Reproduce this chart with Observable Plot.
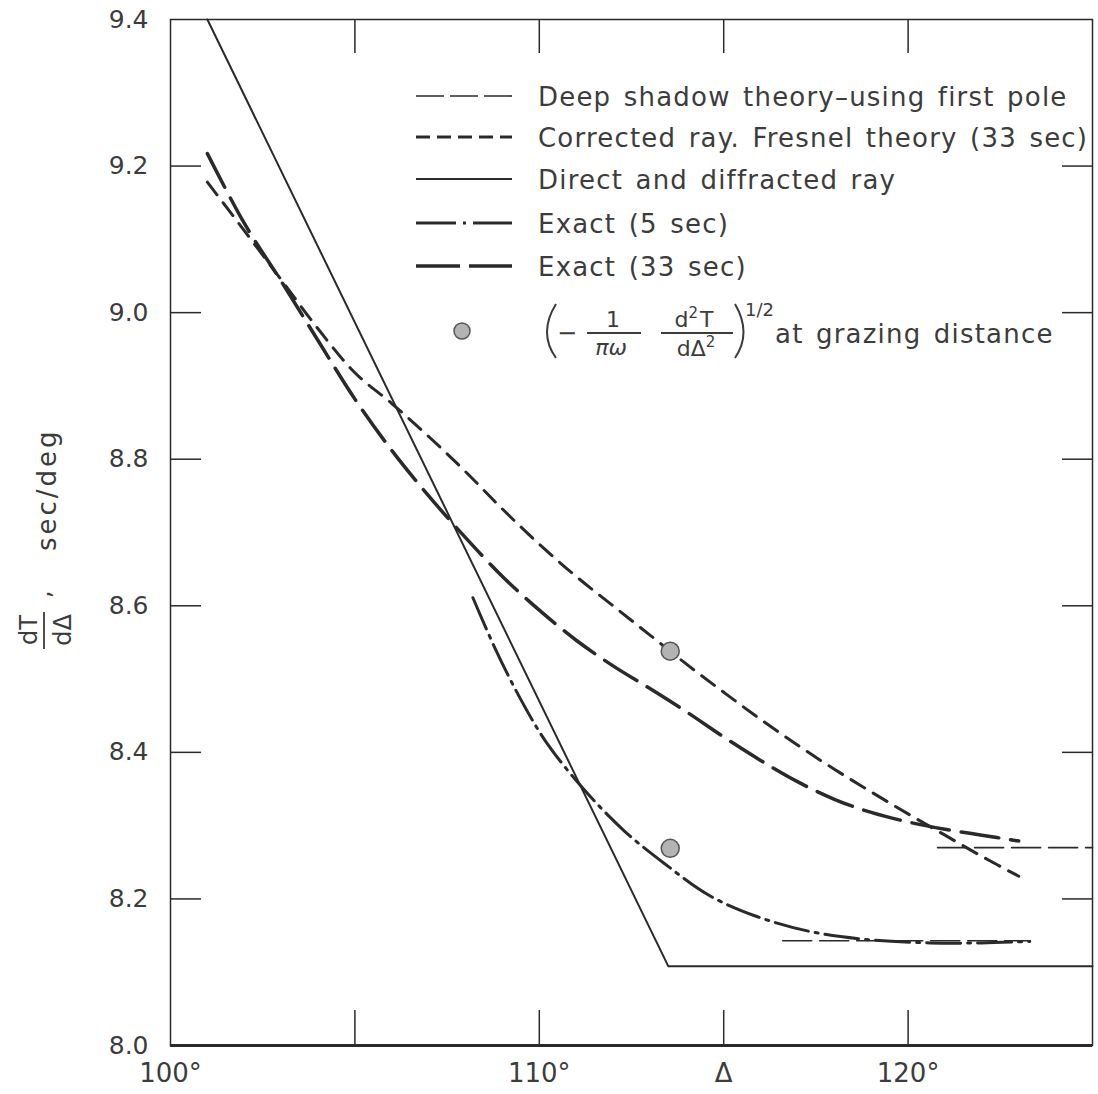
<!DOCTYPE html>
<html>
<head>
<meta charset="utf-8">
<script src="https://cdn.jsdelivr.net/npm/d3@7"></script>
<script src="https://cdn.jsdelivr.net/npm/@observablehq/plot@0.6"></script>
<style>
  html, body { margin: 0; padding: 0; background: #fff; }
  #chart svg { display: block; }
</style>
</head>
<body>
<div id="chart"></div>
<script>
// dT/dΔ (sec/deg) against epicentral distance Δ (deg), as [Δ, dT/dΔ] pairs.
const directRay = [[101.0, 9.40], [113.5, 8.108], [125.0, 8.108]];

const fresnel33 = [
  [101.0, 9.178], [102.0, 9.112], [103.0, 9.045], [104.0, 8.978], [105.0, 8.918],
  [106.0, 8.876], [107.0, 8.831], [108.0, 8.783], [109.0, 8.732], [110.0, 8.684],
  [111.0, 8.640], [112.0, 8.600], [113.0, 8.560], [114.0, 8.520], [115.0, 8.482],
  [116.0, 8.445], [117.0, 8.410], [118.0, 8.377], [119.0, 8.346], [120.0, 8.316],
  [121.0, 8.287], [122.0, 8.258], [123.0, 8.231]
];

const exact33 = [
  [101.0, 9.217], [102.0, 9.122], [103.0, 9.043], [104.0, 8.962], [105.0, 8.882],
  [106.0, 8.812], [107.0, 8.750], [108.0, 8.693], [109.0, 8.640], [110.0, 8.594],
  [111.0, 8.553], [112.0, 8.518], [113.0, 8.487], [114.0, 8.455], [115.0, 8.421],
  [116.0, 8.389], [117.0, 8.360], [118.0, 8.336], [119.0, 8.318], [120.0, 8.305],
  [121.0, 8.295], [122.0, 8.287], [123.0, 8.279]
];

const exact5 = [
  [108.2, 8.611], [108.8, 8.542], [109.5, 8.472], [110.2, 8.413], [111.2, 8.350],
  [112.3, 8.293], [113.4, 8.248], [114.6, 8.205], [115.9, 8.176], [117.3, 8.156],
  [118.8, 8.145], [120.6, 8.140], [122.0, 8.140], [123.3, 8.142]
];

const deepShadowUpper = [[120.8, 8.270], [125.0, 8.270]];
const deepShadowLower = [[116.6, 8.143], [123.3, 8.143]];

// (-1/(πω) d²T/dΔ²)^1/2 evaluated at the grazing distance
const grazingPoints = [[113.55, 8.538], [113.55, 8.269]];

const xTickValues = [105, 110, 115, 120];
const xLabelValues = [100, 110, 115, 120];
const xLabelText = ["100°", "110°", "Δ", "120°"];
const yTickValues = [8.2, 8.4, 8.6, 8.8, 9.0, 9.2];
const yLabelValues = [8.0, 8.2, 8.4, 8.6, 8.8, 9.0, 9.2, 9.4];

const legendLabels = [
  "Deep shadow theory–using first pole",
  "Corrected ray. Fresnel theory (33 sec)",
  "Direct and diffracted ray",
  "Exact (5 sec)",
  "Exact (33 sec)"
];
const formulaTail = "at grazing distance";

// ---- layout & style ----
const W = 1098, H = 1094;
const M = {top: 19, right: 6, bottom: 49, left: 170};
const innerW = W - M.left - M.right;
const innerH = H - M.top - M.bottom;
const FONT = "'DejaVu Sans', sans-serif";
const ink = "#2a2a2a";
const textInk = "#3c3c3c";

const lineStyle = {
  deep:    {strokeWidth: 1.6, dash: "29,8",        legendDash: "28,6"},
  fresnel: {strokeWidth: 3,   dash: "16,10",       legendDash: "14,7"},
  direct:  {strokeWidth: 2,   dash: null,          legendDash: null},
  exact5:  {strokeWidth: 3,   dash: "34,7,3,7",    legendDash: "40,7,3,7,40"},
  exact33: {strokeWidth: 3.5, dash: "38,12",       legendDash: "44,9"}
};

const px = d => d[0], py = d => d[1];
const lineOpts = (s, extra = {}) => ({
  x: px, y: py, stroke: ink, strokeWidth: s.strokeWidth,
  strokeDasharray: s.dash ?? undefined, ...extra
});

const chart = Plot.plot({
  width: W, height: H,
  marginTop: M.top, marginRight: M.right, marginBottom: M.bottom, marginLeft: M.left,
  x: {domain: [100, 125]},
  y: {domain: [8.0, 9.4]},
  style: {background: "#fff", fontFamily: FONT, color: textInk},
  marks: [
    // frame with a heavier base line
    Plot.frame({stroke: ink, strokeWidth: 1.5}),
    Plot.ruleY([8.0], {stroke: ink, strokeWidth: 3}),
    // inward ticks on all four sides
    Plot.ruleX(xTickValues, {stroke: ink, strokeWidth: 1.5, insetTop: innerH - 35}),
    Plot.ruleX(xTickValues, {stroke: ink, strokeWidth: 1.5, insetBottom: innerH - 34}),
    Plot.ruleY(yTickValues, {stroke: ink, strokeWidth: 1.5, insetRight: innerW - 31}),
    Plot.ruleY(yTickValues, {stroke: ink, strokeWidth: 1.5, insetLeft: innerW - 30}),
    // tick labels
    Plot.axisY(yLabelValues, {
      tickSize: 0, tickPadding: 22, tickFormat: d3.format(".1f"),
      fontSize: 25, label: null, fill: textInk
    }),
    Plot.axisX(xLabelValues, {
      tickSize: 0, tickPadding: 18,
      tickFormat: d => xLabelText[xLabelValues.indexOf(d)],
      fontSize: 26, label: null, fill: textInk
    }),
    // curves
    Plot.line(deepShadowUpper, lineOpts(lineStyle.deep)),
    Plot.line(deepShadowLower, lineOpts(lineStyle.deep)),
    Plot.line(directRay, lineOpts(lineStyle.direct)),
    Plot.line(fresnel33, lineOpts(lineStyle.fresnel, {curve: "catmull-rom"})),
    Plot.line(exact33, lineOpts(lineStyle.exact33, {curve: "catmull-rom"})),
    Plot.line(exact5, lineOpts(lineStyle.exact5, {curve: "catmull-rom"})),
    Plot.dot(grazingPoints, {x: px, y: py, r: 9, fill: "#b3b3b3", stroke: "#555", strokeWidth: 1.5})
  ]
});

document.getElementById("chart").appendChild(chart);
const svg = d3.select(chart);

// ---- legend ----
const legend = svg.append("g")
  .attr("font-family", FONT)
  .attr("text-anchor", "start")
  .attr("fill", textInk);

const legendKeys = ["deep", "fresnel", "direct", "exact5", "exact33"];
const rowY = [96, 137, 179, 223, 266];
const sampleX0 = 416, sampleX1 = 512, labelX = 538;

legendKeys.forEach((key, i) => {
  const s = lineStyle[key];
  legend.append("line")
    .attr("x1", sampleX0).attr("x2", sampleX1)
    .attr("y1", rowY[i]).attr("y2", rowY[i])
    .attr("stroke", ink)
    .attr("stroke-width", s.strokeWidth)
    .attr("stroke-dasharray", s.legendDash);
  legend.append("text")
    .attr("x", labelX).attr("y", rowY[i] + 10)
    .attr("font-size", 26)
    .attr("letter-spacing", 1.2)
    .attr("word-spacing", 3)
    .text(legendLabels[i]);
});

// grazing-distance symbol and formula
const fy = 333;
legend.append("circle")
  .attr("cx", 462).attr("cy", 331).attr("r", 8)
  .attr("fill", "#b3b3b3").attr("stroke", "#555").attr("stroke-width", 1.5);

const formula = legend.append("g").attr("font-size", 22);
formula.append("path")
  .attr("d", `M556,${fy - 29} Q538,${fy} 556,${fy + 25}`)
  .attr("fill", "none").attr("stroke", textInk).attr("stroke-width", 2);
formula.append("text").attr("x", 557).attr("y", fy + 8).attr("font-size", 24).text("−");
formula.append("text").attr("x", 613).attr("y", fy - 6).attr("text-anchor", "middle").text("1");
formula.append("line").attr("x1", 587).attr("x2", 641).attr("y1", fy).attr("y2", fy)
  .attr("stroke", textInk).attr("stroke-width", 1.8);
formula.append("text").attr("x", 611).attr("y", fy + 22).attr("text-anchor", "middle")
  .attr("font-style", "italic").text("πω");

const num = formula.append("text").attr("x", 694).attr("y", fy - 6).attr("text-anchor", "middle");
num.append("tspan").text("d");
num.append("tspan").attr("font-size", 15).attr("dy", -9).text("2");
num.append("tspan").attr("dy", 9).attr("dx", 2).text("T");
formula.append("line").attr("x1", 661).attr("x2", 733).attr("y1", fy).attr("y2", fy)
  .attr("stroke", textInk).attr("stroke-width", 1.8);
const den = formula.append("text").attr("x", 696).attr("y", fy + 23).attr("text-anchor", "middle");
den.append("tspan").text("dΔ");
den.append("tspan").attr("font-size", 15).attr("dy", -9).text("2");

formula.append("path")
  .attr("d", `M735,${fy - 29} Q752,${fy} 735,${fy + 25}`)
  .attr("fill", "none").attr("stroke", textInk).attr("stroke-width", 2);
formula.append("text").attr("x", 745).attr("y", fy - 17).attr("font-size", 18).text("1/2");
formula.append("text").attr("x", 775).attr("y", fy + 10)
  .attr("font-size", 26).attr("letter-spacing", 1.2).attr("word-spacing", 3)
  .text(formulaTail);

// ---- y-axis title: dT/dΔ, sec/deg (rotated) ----
const yTitle = svg.append("g")
  .attr("transform", "rotate(-90)")
  .attr("font-family", FONT)
  .attr("text-anchor", "start")
  .attr("fill", textInk)
  .attr("font-size", 24);
yTitle.append("text").attr("x", -630).attr("y", 37).attr("text-anchor", "middle").text("dT");
yTitle.append("line").attr("x1", -649).attr("x2", -612).attr("y1", 44).attr("y2", 44)
  .attr("stroke", textInk).attr("stroke-width", 1.8);
yTitle.append("text").attr("x", -630).attr("y", 71).attr("text-anchor", "middle").text("dΔ");
yTitle.append("text").attr("x", -598).attr("y", 50).text(",");
yTitle.append("text").attr("x", -551).attr("y", 56)
  .attr("font-size", 26).attr("letter-spacing", 3)
  .text("sec/deg");
</script>
</body>
</html>
